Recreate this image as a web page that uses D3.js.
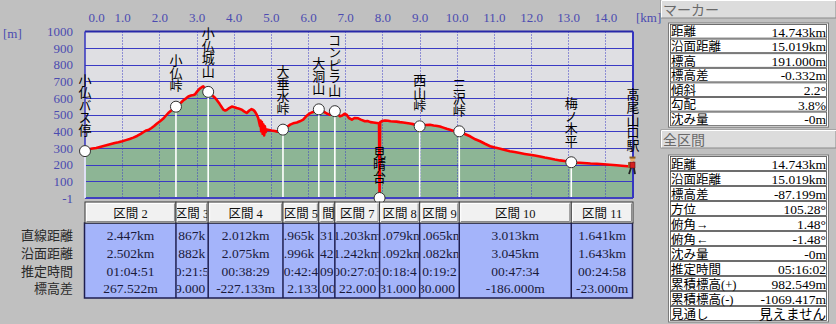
<!DOCTYPE html>
<html><head><meta charset="utf-8">
<script src="https://cdn.jsdelivr.net/npm/d3@7"></script>
<style>
html,body{margin:0;padding:0;background:#c0c0c0;overflow:hidden}
svg{display:block}
.vlab{writing-mode:vertical-rl;text-orientation:upright}
</style></head><body>
<svg id="chart" width="836" height="324"></svg>
<script>
// ---------- DATA ----------
const xTicks = [0,1,2,3,4,5,6,7,8,9,10,11,12,13,14];
const yTicks = [1000,900,800,700,600,500,400,300,200,100,-1];
const totalKm = 14.743;

const profileKm = [0.00,0.10,0.20,0.30,0.40,0.50,0.60,0.70,0.80,0.90,1.00,1.10,1.20,1.30,1.40,1.50,1.57,1.65,1.72,1.79,1.86,1.93,2.02,2.10,2.18,2.24,2.32,2.40,2.47,2.55,2.64,2.72,2.78,2.85,2.92,2.96,3.02,3.08,3.14,3.18,3.23,3.28,3.34,3.41,3.48,3.54,3.62,3.68,3.72,3.77,3.81,3.88,3.95,4.02,4.08,4.15,4.22,4.28,4.35,4.42,4.48,4.53,4.57,4.62,4.66,4.69,4.71,4.72,4.74,4.76,4.78,4.80,4.82,4.84,4.86,4.89,4.95,5.02,5.10,5.18,5.25,5.33,5.40,5.47,5.52,5.60,5.70,5.78,5.87,5.95,6.05,6.12,6.19,6.25,6.32,6.40,6.46,6.52,6.59,6.66,6.72,6.78,6.86,6.92,6.98,7.04,7.10,7.18,7.25,7.35,7.42,7.53,7.60,7.68,7.76,7.85,7.91,7.925,7.94,8.00,8.07,8.15,8.22,8.29,8.38,8.47,8.56,8.65,8.74,8.83,8.92,9.00,9.08,9.16,9.28,9.38,9.48,9.55,9.64,9.73,9.82,9.92,10.04,10.09,10.20,10.36,10.50,10.63,10.76,10.90,11.03,11.17,11.30,11.43,11.56,11.70,11.83,11.97,12.10,12.24,12.37,12.51,12.64,12.78,12.95,13.08,13.20,13.41,13.60,13.77,13.95,14.12,14.30,14.44,14.60,14.743];
const profileElev = [284,292,297,300,306,312,318,324,330,334,340,347,354,362,372,385,395,405,410,420,432,445,460,475,495,510,525,540,550,565,585,598,609,615,618,622,640,655,665,670,655,640,630,619,605,590,565,545,530,525,528,540,549,545,540,535,530,520,510,525,533,528,519,500,480,450,430,465,400,455,385,440,375,430,395,410,408,405,402,398,399,404,420,432,440,448,453,460,470,490,508,515,520,528,530,520,513,505,500,510,518,505,490,495,505,500,480,470,480,478,470,460,462,455,453,450,448,-1,455,462,465,463,460,459,458,455,453,450,447,443,436,430,433,438,439,435,432,429,422,415,409,402,395,397,385,370,352,340,325,310,302,295,287,280,275,269,264,259,254,249,242,236,230,225,220,215,212,209,206,205,202,199,196,193,190,189];

const markerNames = ["小仏バス停","小仏峠","小仏城山","大垂水峠","大洞山","コンピラ山","見晴台","西山峠","三沢峠","梅ノ木平","高尾山口駅"];
const markerKm   = [0, 2.447, 3.314, 5.326, 6.291, 6.722, 7.925, 9.004, 10.069, 13.082, 14.743];
const markerElev = [281, 548, 637, 410, 532, 521, -1, 430, 400, 214, 191];

const sectionNames    = ["区間 2","区間 3","区間 4","区間 5","区間 6","区間 7","区間 8","区間 9","区間 10","区間 11"];
const sectionStraight = ["2.447km","0.867km","2.012km","0.965km","0.431km","1.203km","1.079km","1.065km","3.013km","1.641km"];
const sectionSurface  = ["2.502km","0.882km","2.075km","0.996km","0.442km","1.242km","1.092km","1.082km","3.045km","1.643km"];
const sectionTime     = ["01:04:51","00:21:55","00:38:29","00:42:40","00:09:12","00:27:03","00:18:42","00:19:27","00:47:34","00:24:58"];
const sectionElevDiff = ["267.522m","89.000m","-227.133m","122.133m","-11.000m","-522.000m","431.000m","-30.000m","-186.000m","-23.000m"];
const rowLabels = ["直線距離","沿面距離","推定時間","標高差"];

const markerPanelLabels = ["距離","沿面距離","標高","標高差","傾斜","勾配","沈み量"];
const markerPanelValues = ["14.743km","15.019km","191.000m","-0.332m","2.2°","3.8%","-0m"];
const totalPanelLabels = ["距離","沿面距離","標高差","方位","俯角→","俯角←","沈み量","推定時間","累積標高(+)","累積標高(-)","見通し"];
const totalPanelValues = ["14.743km","15.019km","-87.199m","105.28°","1.48°","-1.48°","-0m","05:16:02","982.549m","-1069.417m","見えません"];

// ---------- DRAW ----------
const W = 836, H = 324;
const svg = d3.select("#chart");
const SERIF = "'Liberation Serif','DejaVu Serif','Noto Sans CJK JP',serif";
const CJK = "'Noto Sans CJK JP','Liberation Serif',sans-serif";
const axisColor = "#4b4bb0";
const gridColor = "#3a3ac4";

svg.append("rect").attr("width", W).attr("height", H).attr("fill", "#c0c0c0");

const x = d3.scaleLinear().domain([0, totalKm]).range([85, 633]);
const y = d3.scaleLinear().domain([-1, 1000]).range([198, 31.5]);

svg.append("rect").attr("x", x(0)).attr("y", y(1000))
  .attr("width", x(totalKm) - x(0)).attr("height", y(-1) - y(1000)).attr("fill", "#dfdfe3");

const profile = profileKm.map((k, i) => ({ k, e: profileElev[i] }));

svg.append("path").datum(profile)
  .attr("d", d3.area().x(d => x(d.k)).y0(y(-1)).y1(d => y(d.e)))
  .attr("fill", "#8db595");

svg.append("g").selectAll("line").data(yTicks.filter(d => d !== -1 && d !== 1000)).join("line")
  .attr("x1", x(0)).attr("x2", x(totalKm)).attr("y1", d => Math.round(y(d)) + 0.5).attr("y2", d => Math.round(y(d)) + 0.5)
  .attr("stroke", gridColor).attr("stroke-width", 1);
svg.append("g").selectAll("line").data(xTicks.filter(d => d > 0)).join("line")
  .attr("x1", d => Math.round(x(d)) + 0.5).attr("x2", d => Math.round(x(d)) + 0.5)
  .attr("y1", y(1000)).attr("y2", y(-1))
  .attr("stroke", gridColor).attr("stroke-width", 1).attr("stroke-dasharray", "1,2");

const markers = markerNames.map((n, i) => ({ n, k: markerKm[i], e: markerElev[i], i }));
svg.append("g").selectAll("line").data(markers.filter(d => d.e > 0 && d.i < markers.length - 1)).join("line")
  .attr("x1", d => x(d.k)).attr("x2", d => x(d.k))
  .attr("y1", d => y(d.e)).attr("y2", y(-1))
  .attr("stroke", "#ffffff").attr("stroke-width", 1.6);

svg.append("path").datum(profile)
  .attr("d", d3.line().x(d => x(d.k)).y(d => y(d.e)))
  .attr("fill", "none").attr("stroke", "#ff0000").attr("stroke-width", 2.6)
  .attr("stroke-linejoin", "round").attr("stroke-linecap", "round");

svg.append("line").attr("x1", x(0)).attr("x2", x(totalKm)).attr("y1", y(1000)).attr("y2", y(1000))
  .attr("stroke", "#2727a8").attr("stroke-width", 2);
svg.append("line").attr("x1", x(0)).attr("x2", x(totalKm)).attr("y1", y(-1)).attr("y2", y(-1))
  .attr("stroke", "#4040c0").attr("stroke-width", 2);
svg.append("line").attr("x1", x(0)).attr("x2", x(0)).attr("y1", y(1000)).attr("y2", y(-1))
  .attr("stroke", "#3535c0").attr("stroke-width", 1.5);
svg.append("line").attr("x1", x(totalKm)).attr("x2", x(totalKm)).attr("y1", y(1000)).attr("y2", y(-1))
  .attr("stroke", "#3535c0").attr("stroke-width", 2);
svg.append("line").attr("x1", x(0)).attr("x2", x(0)).attr("y1", y(markerElev[0])).attr("y2", y(-1))
  .attr("stroke", "#fff").attr("stroke-width", 1.6);

svg.append("g").selectAll("circle").data(markers.filter(d => d.i < markers.length - 1)).join("circle")
  .attr("cx", d => x(d.k)).attr("cy", d => y(d.e)).attr("r", 5.5)
  .attr("fill", "#ffffff").attr("stroke", "#333").attr("stroke-width", 1);

const last = markers[markers.length - 1];
const hk = svg.append("g").attr("transform", `translate(${x(last.k) - 1},${y(last.e)})`);
hk.append("rect").attr("x", -4).attr("y", -4).attr("width", 3).attr("height", 6).attr("fill", "#a06a30");
hk.append("rect").attr("x", -2).attr("y", -4).attr("width", 5).attr("height", 6).attr("fill", "#d42020").attr("stroke", "#601010").attr("stroke-width", 0.6);
hk.append("circle").attr("cx", 0.5).attr("cy", -6.5).attr("r", 2.4).attr("fill", "#e8b070");
hk.append("rect").attr("x", -2.5).attr("y", -9.5).attr("width", 6).attr("height", 2).attr("fill", "#8a5a20");
hk.append("path").attr("d", "M-1,2 L-3,8 M2,2 L3,8").attr("stroke", "#222").attr("stroke-width", 1.8);

// vertical marker labels: one text each, written top to bottom
svg.append("g").attr("font-family", CJK).attr("font-size", 13).attr("fill", "#000")
  .selectAll("text").data(markers).join("text")
  .attr("class", "vlab")
  .attr("x", d => x(d.k)).attr("y", d => y(d.e) - 15)
  .attr("text-anchor", "end").attr("letter-spacing", -0.4)
  .text(d => d.n);

const gx = svg.append("g").attr("transform", "translate(0,17)")
  .call(d3.axisTop(x).tickValues(xTicks).tickFormat(d => d.toFixed(1)).tickSize(0).tickPadding(0));
gx.select(".domain").remove();
gx.attr("font-family", SERIF).attr("font-size", 13);
gx.selectAll("text").attr("y", 0).attr("dy", "0.35em").attr("fill", axisColor);
gx.selectAll(".tick").filter(d => d === 0).select("text").attr("text-anchor", "start").attr("x", 3);
svg.append("text").attr("x", x(totalKm) + 3).attr("y", 17).attr("dy", "0.35em")
  .attr("font-family", SERIF).attr("font-size", 13).attr("fill", axisColor).text("[km]");

const gy = svg.append("g").attr("transform", "translate(73,0)")
  .call(d3.axisLeft(y).tickValues(yTicks).tickFormat(d => String(d)).tickSize(0).tickPadding(0));
gy.select(".domain").remove();
gy.attr("font-family", SERIF).attr("font-size", 13);
gy.selectAll("text").attr("fill", axisColor);
svg.append("text").attr("x", 3).attr("y", 33).attr("dy", "0.35em")
  .attr("font-family", SERIF).attr("font-size", 13).attr("fill", axisColor).text("[m]");

// ---------- TABLE ----------
const hdrTop = 202, hdrH = 21, dataTop = 223, dataBot = 298;
const rowY = [235, 253, 271, 288];
const cols = sectionNames.map((n, i) => ({
  n, i, x0: x(markerKm[i]), x1: x(markerKm[i + 1]),
  vals: [sectionStraight[i], sectionSurface[i], sectionTime[i], sectionElevDiff[i]]
}));
const defs = svg.append("defs");
cols.forEach(c => {
  defs.append("clipPath").attr("id", "clip" + c.i).append("rect")
    .attr("x", c.x0 + 1).attr("y", hdrTop).attr("width", Math.max(0, c.x1 - c.x0 - 2)).attr("height", dataBot - hdrTop);
});

// centred cell text: characters whose centre falls outside the cell are dropped, the rest is clipped by the cell
function fitText(sel, a, b) {
  const node = sel.node();
  const str = sel.text();
  if (node.getComputedTextLength() <= b - a) return;
  const n = node.getNumberOfChars();
  const keep = [];
  for (let i = 0; i < n; i++) {
    const e = node.getExtentOfChar(i);
    const cx = e.x + e.width / 2;
    if (cx >= a && cx <= b) keep.push(i);
  }
  if (!keep.length) return;
  const sx = node.getExtentOfChar(keep[0]).x;
  sel.text(str.slice(keep[0], keep[keep.length - 1] + 1)).attr("text-anchor", "start").attr("x", sx);
}

svg.append("rect").attr("x", x(0) - 0.5).attr("y", dataTop).attr("width", x(totalKm) - x(0)).attr("height", dataBot - dataTop)
  .attr("fill", "#a4b4fa").attr("stroke", "#1e1e50").attr("stroke-width", 1.5);
const hg = svg.append("g");
cols.forEach(c => {
  hg.append("rect").attr("x", c.x0).attr("y", hdrTop).attr("width", c.x1 - c.x0).attr("height", hdrH)
    .attr("fill", "#f1f1f1").attr("stroke", "#3a3a3a").attr("stroke-width", 1);
  hg.append("path").attr("d", `M${c.x0 + 1.5},${hdrTop + hdrH - 1} V${hdrTop + 1.5} H${c.x1 - 1.5}`)
    .attr("fill", "none").attr("stroke", "#ffffff").attr("stroke-width", 1);
  hg.append("path").attr("d", `M${c.x0 + 1.5},${hdrTop + hdrH - 1.5} H${c.x1 - 1.5} V${hdrTop + 1.5}`)
    .attr("fill", "none").attr("stroke", "#8a8a8a").attr("stroke-width", 1);
  const cg = hg.append("g").attr("clip-path", `url(#clip${c.i})`);
  const ht = cg.append("text").attr("x", (c.x0 + c.x1) / 2).attr("y", hdrTop + hdrH / 2 + 1).attr("dy", "0.35em")
    .attr("text-anchor", "middle").attr("font-family", SERIF).attr("font-size", 12.5).attr("fill", "#111").text(c.n);
  fitText(ht, c.x0 + 1, c.x1 - 1);
  c.vals.forEach((v, r) => {
    const t = cg.append("text").attr("x", (c.x0 + c.x1) / 2).attr("y", rowY[r]).attr("dy", "0.35em")
      .attr("text-anchor", "middle").attr("font-family", SERIF).attr("font-size", 13.5).attr("fill", "#1a1a3a").text(v);
    fitText(t, c.x0 + 1, c.x1 - 1);
  });
  if (c.i > 0) {
    svg.append("line").attr("x1", c.x0).attr("x2", c.x0).attr("y1", dataTop).attr("y2", dataBot)
      .attr("stroke", "#1e1e50").attr("stroke-width", 1.5);
  }
});
svg.append("g").selectAll("text").data(rowLabels).join("text")
  .attr("x", 73).attr("y", (d, i) => rowY[i]).attr("dy", "0.36em").attr("text-anchor", "end")
  .attr("font-family", SERIF).attr("font-size", 13).attr("fill", "#2a2a2a").text(d => d);

// ---------- RIGHT PANEL ----------
function panel(title, hy, boxTop, rowH, labels, values) {
  const g = svg.append("g");
  g.append("rect").attr("x", 661).attr("y", hy).attr("width", 175).attr("height", 18)
    .attr("fill", "#dcdcdc").attr("stroke", "#8a8a8a").attr("stroke-width", 1);
  g.append("path").attr("d", `M661.5,${hy + 17.5} V${hy + 0.5} H836`).attr("stroke", "#fff").attr("fill", "none");
  g.append("text").attr("x", 663).attr("y", hy + 9.5).attr("dy", "0.36em")
    .attr("font-family", CJK).attr("font-size", 14).attr("fill", "#6a6a6a").text(title);
  const h = rowH * labels.length + 2;
  g.append("rect").attr("x", 668.5).attr("y", boxTop).attr("width", 160).attr("height", h)
    .attr("fill", "#fff").attr("stroke", "#7a7a7a").attr("stroke-width", 1);
  labels.forEach((l, i) => {
    const ry = boxTop + 1 + i * rowH;
    g.append("rect").attr("x", 670.5).attr("y", ry + 0.5).attr("width", 156).attr("height", rowH - 1)
      .attr("fill", "none").attr("stroke", "#4a4a4a").attr("stroke-width", 0.8);
    g.append("text").attr("x", 671).attr("y", ry + rowH / 2 + 0.5).attr("dy", "0.36em")
      .attr("font-family", SERIF).attr("font-size", 12.5).attr("fill", "#000").text(l);
    g.append("text").attr("x", 826).attr("y", ry + rowH / 2 + 0.5).attr("dy", "0.36em").attr("text-anchor", "end")
      .attr("font-family", SERIF).attr("font-size", 13.5).attr("fill", "#000").text(values[i]);
  });
}
panel("マーカー", 0, 23, 14.6, markerPanelLabels, markerPanelValues);
panel("全区間", 130, 155, 15, totalPanelLabels, totalPanelValues);
</script>
</body></html>
